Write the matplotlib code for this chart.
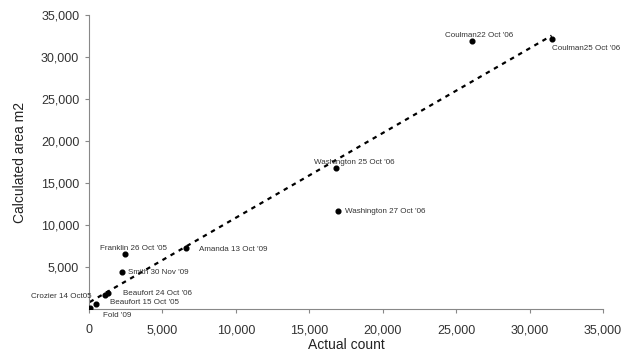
import numpy as np
import matplotlib
matplotlib.use("Agg")
import matplotlib.pyplot as plt

plt.rcParams['font.family'] = ['Liberation Sans', 'DejaVu Sans']

# Colony surveys: actual count vs calculated area
labels = ["Fold '09", "Crozier 14 Oct05", "Beaufort 15 Oct '05", "Beaufort 24 Oct '06",
          "Smith 30 Nov '09", "Franklin 26 Oct '05", "Amanda 13 Oct '09",
          "Washington 25 Oct '06", "Washington 27 Oct '06",
          "Coulman22 Oct '06", "Coulman25 Oct '06"]
actual_count = [50, 480, 1100, 1300, 2240, 2450, 6600, 16800, 16950, 26100, 31500]
calc_area = [100, 600, 1700, 1950, 4400, 6550, 7250, 16800, 11650, 31900, 32100]

x_ticks = [0, 5000, 10000, 15000, 20000, 25000, 30000, 35000]
y_ticks = [5000, 10000, 15000, 20000, 25000, 30000, 35000]

# label placement (pixel offsets from each point, horizontal alignment)
offsets = [(13, -7, 'left'), (-4, 7, 'right'), (5, -8, 'left'), (15, -1, 'left'),
           (6, 0, 'left'), (-25, 5, 'left'), (13, -1, 'left'),
           (-22, 5, 'left'), (7, 0, 'left'), (-27, 6, 'left'), (0, -9, 'left')]

fig = plt.figure(figsize=(6.31, 3.53), dpi=100)
ax = fig.add_axes([0.141, 0.1246, 0.8146, 0.833])

x = np.array(actual_count, dtype=float)
y = np.array(calc_area, dtype=float)

# linear trend line across the data range
slope, intercept = np.polyfit(x, y, 1)
xt = np.array([x.min(), x.max()])
ax.plot(xt, slope * xt + intercept, color='black', lw=1.6,
        linestyle=(0, (2.0, 2.2)), zorder=2)

ax.plot(x, y, 'o', color='black', ms=3.4, zorder=3)

for xi, yi, lab, (dx, dy, ha) in zip(x, y, labels, offsets):
    ax.annotate(lab, (xi, yi), xytext=(dx, dy), textcoords='offset pixels',
                ha=ha, va='center', fontsize=5.8, color='#333333')

ax.set_xlim(0, 35000)
ax.set_ylim(0, 35000)
ax.set_xticks(x_ticks)
ax.set_yticks(y_ticks)
fmt = matplotlib.ticker.FuncFormatter(lambda v, p: f"{int(v):,}")
ax.xaxis.set_major_formatter(fmt)
ax.yaxis.set_major_formatter(fmt)

for s in ['top', 'right']:
    ax.spines[s].set_visible(False)
for s in ['left', 'bottom']:
    ax.spines[s].set_color('#888888')
    ax.spines[s].set_linewidth(0.8)
ax.tick_params(axis='both', colors='#888888', length=3, width=0.8, labelsize=9,
               labelcolor='#333333')
ax.tick_params(axis='x', pad=8)
ax.tick_params(axis='y', pad=4)

ax.set_xlabel('Actual count', fontsize=10, color='#222222', labelpad=1)
ax.set_ylabel('Calculated area m2', fontsize=10, color='#222222', labelpad=10)

fig.savefig('out.png', dpi=100)
